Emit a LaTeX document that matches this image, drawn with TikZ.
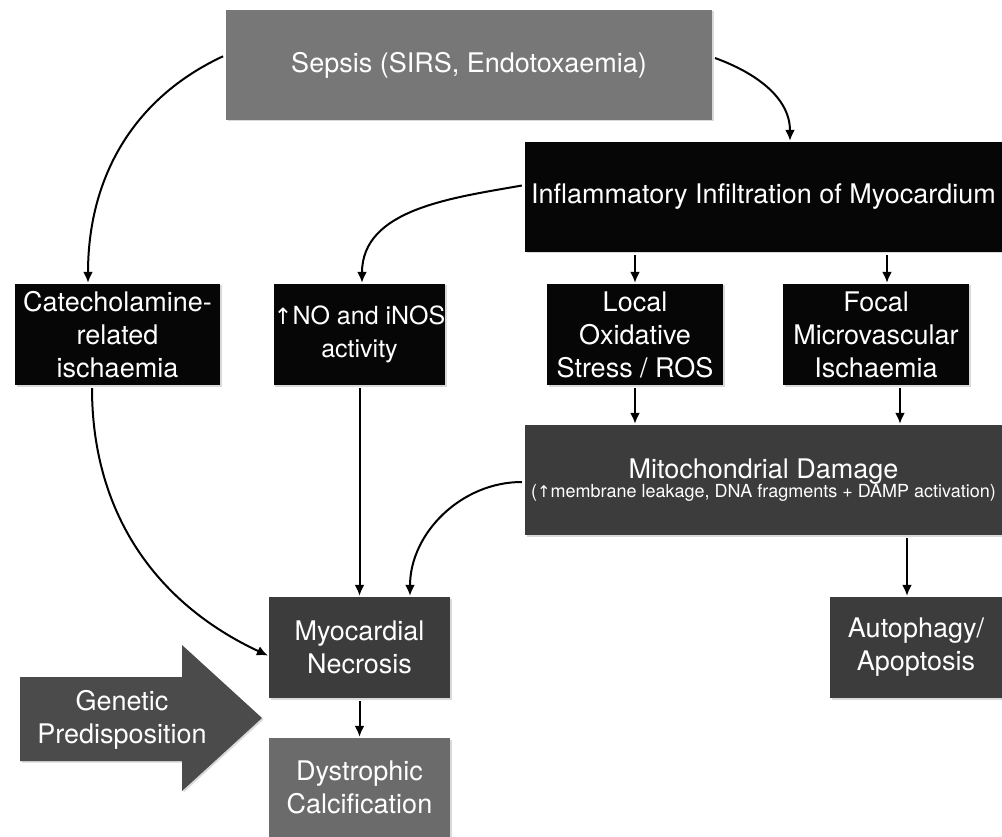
\documentclass[tikz,border=0pt]{standalone}
\usepackage{fontspec}
\setmainfont{TeX Gyre Heros}
\newfontfamily\symfont{DejaVu Sans}
\usepackage{tikz}
\usetikzlibrary{arrows.meta,shadows}
\definecolor{sepsisgray}{HTML}{777777}
\definecolor{calcgray}{HTML}{6B6B6B}
\definecolor{darkbox}{HTML}{3C3C3C}
\definecolor{blackbox}{HTML}{060606}
\definecolor{geneticgray}{HTML}{4B4B4B}
\newcommand{\upar}{{\symfont\addfontfeatures{Scale=0.9}↑}}
\tikzset{
  box/.style={text=white, align=center, inner sep=0pt,
    font=\fontsize{27}{33}\selectfont,
    drop shadow={shadow xshift=1.5pt,shadow yshift=-1.5pt,opacity=0.3}},
  arr/.style={-{Latex[length=11pt,width=10pt]}, line width=2pt,
    shorten <=3pt, shorten >=1pt}
}

\begin{document}
\begin{tikzpicture}[x=1pt,y=-1pt]
\useasboundingbox (0,0) rectangle (1002,837);
% boxes
\node[box,fill=sepsisgray,minimum width=486pt,minimum height=110pt] (sepsis) at (469,65) {Sepsis (SIRS, Endotoxaemia)};
\node[box,fill=blackbox,minimum width=477pt,minimum height=110pt] (infl) at (763.5,197) {Inflammatory Infiltration of Myocardium};
\node[box,fill=blackbox,minimum width=205pt,minimum height=101pt] (cat) at (117.5,334.5) {Catecholamine-\\related\\ischaemia};
\node[box,fill=blackbox,minimum width=165pt,minimum height=101pt,font=\fontsize{25}{33}\selectfont] (nos) at (359.5,334.5) {\upar NO and iNOS\\activity};
\node[box,fill=blackbox,minimum width=176pt,minimum height=101pt] (ros) at (635,334.5) {Local\\Oxidative\\Stress / ROS};
\node[box,fill=blackbox,minimum width=186pt,minimum height=101pt] (focal) at (876,334.5) {Focal\\Microvascular\\Ischaemia};
\node[box,fill=darkbox,minimum width=477pt,minimum height=110pt] (mito) at (763.5,480) {Mitochondrial Damage\\[-14pt]{\fontsize{18}{20}\selectfont(\upar membrane leakage, DNA fragments + DAMP activation)}};
\node[box,fill=darkbox,minimum width=181pt,minimum height=101pt] (necro) at (359.5,647.5) {Myocardial\\Necrosis};
\node[box,fill=darkbox,minimum width=172pt,minimum height=101pt] (auto) at (916,647.5) {Autophagy/\\Apoptosis};
\node[box,fill=calcgray,minimum width=181pt,minimum height=99pt] (dyst) at (359.5,787.5) {Dystrophic\\Calcification};
% big arrow
\fill[geneticgray,drop shadow={shadow xshift=1.5pt,shadow yshift=-1.5pt,opacity=0.3}]
  (20,677) -- (182,677) -- (182,645) -- (262,718) -- (182,791) -- (182,761) -- (20,761) -- cycle;
\node[text=white,align=center,font=\fontsize{27}{33}\selectfont] (genetic) at (122,720) {Genetic\\Predisposition};
% connectors
\draw[arr] ([yshift=10pt]sepsis.west) to[out=205,in=90] ([xshift=-29.5pt]cat.north);
\draw[arr] ([yshift=8pt]sepsis.east) to[out=-20,in=90] ([xshift=26.5pt]infl.north);
\draw[arr] ([yshift=12pt]infl.west) to[out=190,in=90] ([xshift=2.5pt]nos.north);
\draw[arr] (ros.north |- infl.south) -- (ros.north);
\draw[arr] ([xshift=11pt]focal.north |- infl.south) -- ([xshift=11pt]focal.north);
\draw[arr] (ros.south) -- (ros.south |- mito.north);
\draw[arr] ([xshift=24pt]focal.south) -- ([xshift=24pt]focal.south |- mito.north);
\draw[arr] ([xshift=-25.5pt]cat.south) to[out=-90,in=155] ([yshift=-8.5pt]necro.west);
\draw[arr] (nos.south) -- (nos.south |- necro.north);
\draw[arr] ([yshift=-2pt]mito.west) to[out=180,in=90] ([xshift=50.5pt]necro.north);
\draw[arr] ([xshift=-9pt]auto.north |- mito.south) -- ([xshift=-9pt]auto.north);
\draw[arr] (necro.south) -- (dyst.north);
\end{tikzpicture}
\end{document}
